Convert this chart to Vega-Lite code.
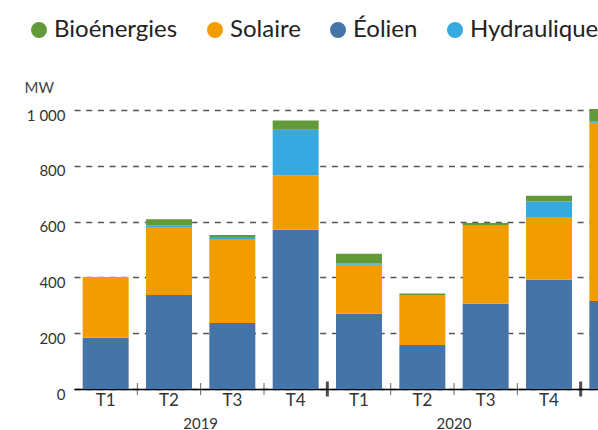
{
  "$schema": "https://vega.github.io/schema/vega-lite/v6.json",
  "width": 524,
  "height": 279,
  "autosize": {"type": "none"},
  "padding": {"left": 74, "top": 110, "right": 0, "bottom": 41},
  "config": {
    "view": {"stroke": null},
    "font": "Lato",
    "axis": {"labelFont": "Lato", "titleFont": "Lato"}
  },
  "datasets": {
    "mw": [
      {"key": "2019-T1", "type": "Éolien", "value": 184},
      {"key": "2019-T1", "type": "Solaire", "value": 217},
      {"key": "2019-T2", "type": "Éolien", "value": 337},
      {"key": "2019-T2", "type": "Solaire", "value": 244},
      {"key": "2019-T2", "type": "Hydraulique", "value": 5},
      {"key": "2019-T2", "type": "Bioénergies", "value": 22},
      {"key": "2019-T3", "type": "Éolien", "value": 237},
      {"key": "2019-T3", "type": "Solaire", "value": 298},
      {"key": "2019-T3", "type": "Hydraulique", "value": 10},
      {"key": "2019-T3", "type": "Bioénergies", "value": 7},
      {"key": "2019-T4", "type": "Éolien", "value": 571},
      {"key": "2019-T4", "type": "Solaire", "value": 194},
      {"key": "2019-T4", "type": "Hydraulique", "value": 164},
      {"key": "2019-T4", "type": "Bioénergies", "value": 33},
      {"key": "2020-T1", "type": "Éolien", "value": 270},
      {"key": "2020-T1", "type": "Solaire", "value": 175},
      {"key": "2020-T1", "type": "Hydraulique", "value": 5},
      {"key": "2020-T1", "type": "Bioénergies", "value": 35},
      {"key": "2020-T2", "type": "Éolien", "value": 158},
      {"key": "2020-T2", "type": "Solaire", "value": 179},
      {"key": "2020-T2", "type": "Bioénergies", "value": 5},
      {"key": "2020-T3", "type": "Éolien", "value": 306},
      {"key": "2020-T3", "type": "Solaire", "value": 282},
      {"key": "2020-T3", "type": "Bioénergies", "value": 7},
      {"key": "2020-T4", "type": "Éolien", "value": 392},
      {"key": "2020-T4", "type": "Solaire", "value": 222},
      {"key": "2020-T4", "type": "Hydraulique", "value": 58},
      {"key": "2020-T4", "type": "Bioénergies", "value": 21},
      {"key": "2021-T1", "type": "Éolien", "value": 315},
      {"key": "2021-T1", "type": "Solaire", "value": 639},
      {"key": "2021-T1", "type": "Hydraulique", "value": 4},
      {"key": "2021-T1", "type": "Bioénergies", "value": 46}
    ],
    "ticks": [
      {"key": "2019-T2", "kind": "q"},
      {"key": "2019-T3", "kind": "q"},
      {"key": "2019-T4", "kind": "q"},
      {"key": "2020-T1", "kind": "y"},
      {"key": "2020-T2", "kind": "q"},
      {"key": "2020-T3", "kind": "q"},
      {"key": "2020-T4", "kind": "q"},
      {"key": "2021-T1", "kind": "y"}
    ]
  },
  "layer": [
    {
      "data": {"name": "mw"},
      "mark": {"type": "bar", "width": {"band": 0.726}},
      "encoding": {
        "x": {
          "field": "key", "type": "nominal", "title": null,
          "scale": {"range": [0, 570], "paddingInner": 0, "paddingOuter": 0},
          "axis": {
            "orient": "bottom",
            "labelExpr": "slice(datum.value, 0, 4) == '2021' ? '' : split(datum.value, '-')[1]",
            "labelAngle": 0, "ticks": false, "grid": false,
            "domainColor": "#000000", "domainWidth": 1.3,
            "labelFontSize": 17, "labelColor": "#333333",
            "labelPadding": 3, "labelBaseline": "top"
          }
        },
        "y": {
          "field": "value", "type": "quantitative", "stack": "zero", "title": "MW",
          "scale": {"domain": [0, 1000], "nice": false},
          "axis": {
            "values": [0, 200, 400, 600, 800, 1000],
            "labelExpr": "replace(format(datum.value, ','), ',', ' ')",
            "ticks": false, "domain": false, "grid": true,
            "gridDash": [6, 5.7], "gridColor": "#555555", "gridWidth": 1.5,
            "labelFontSize": 15, "labelColor": "#333333", "labelPadding": 9,
            "labelBaseline": "top", "labelOffset": -2,
            "titleAngle": 0, "titleAlign": "left", "titleBaseline": "top",
            "titleX": -50, "titleY": -30, "titleFontSize": 15,
            "titleFontWeight": "normal", "titleColor": "#444444"
          }
        },
        "color": {
          "field": "type", "type": "nominal",
          "scale": {
            "domain": ["Bioénergies", "Solaire", "Éolien", "Hydraulique"],
            "range": ["#629a3a", "#f39c00", "#4574a8", "#38a8e0"]
          },
          "legend": {
            "orient": "none", "legendX": -47, "legendY": -92,
            "direction": "horizontal", "title": null,
            "symbolType": "circle", "symbolSize": 254, "symbolStrokeWidth": 0,
            "labelFontSize": 24, "labelFont": "Lato", "labelColor": "#222222",
            "columnPadding": 25, "labelOffset": 3
          }
        },
        "order": {"field": "type", "sort": "descending"}
      }
    },
    {
      "data": {"name": "ticks"},
      "transform": [{"filter": "datum.kind == 'q'"}],
      "mark": {"type": "tick", "orient": "vertical", "thickness": 1, "size": 12, "color": "#222222"},
      "encoding": {
        "x": {
          "field": "key", "type": "nominal", "bandPosition": 0, "title": null,
          "axis": {
            "orient": "bottom",
            "values": ["2019-T3", "2020-T3"],
            "labelExpr": "slice(datum.value, 0, 4)",
            "labelOffset": -31.7,
            "ticks": false, "domain": false, "grid": false, "labelAngle": 0,
            "labelFontSize": 15, "labelColor": "#333333",
            "labelPadding": 27, "labelBaseline": "top"
          }
        },
        "y": {"datum": 0, "type": "quantitative", "title": "MW"}
      }
    },
    {
      "data": {"name": "ticks"},
      "transform": [{"filter": "datum.kind == 'y'"}],
      "mark": {"type": "tick", "orient": "vertical", "thickness": 3, "size": 15, "color": "#000000"},
      "encoding": {
        "x": {"field": "key", "type": "nominal", "bandPosition": 0, "axis": null},
        "y": {"datum": 0, "type": "quantitative", "title": "MW"}
      }
    }
  ],
  "resolve": {"axis": {"x": "independent"}}
}
